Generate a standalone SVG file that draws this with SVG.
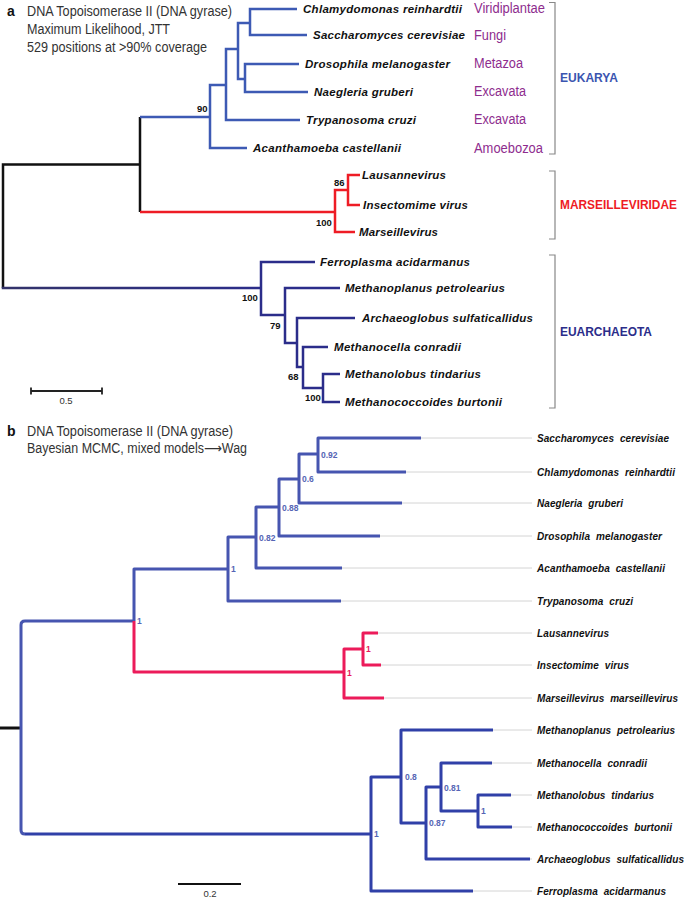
<svg xmlns="http://www.w3.org/2000/svg" width="685" height="898" viewBox="0 0 685 898">
<defs>
<style>
text{font-family:"Liberation Sans",Arial,"DejaVu Sans",sans-serif}
.ttl{font-size:14px;fill:#333}
.pl{font-size:14px;font-weight:bold;fill:#111}
.sp{font-size:11.5px;font-weight:bold;font-style:italic;fill:#111}
.spb{font-size:10px;font-weight:bold;font-style:italic;fill:#111;word-spacing:3px}
.grp{font-size:14px;fill:#8e2c8e}
.cl{font-size:12px;font-weight:bold}
.bs{font-size:9.5px;font-weight:bold;fill:#111}
.bb{font-size:8.5px;font-weight:bold;fill:#5565b5}
.br{font-size:8.5px;font-weight:bold;fill:#e8185a}
.ea{stroke:#3d5ab4;stroke-width:2.5;fill:none}
.ra{stroke:#ee1c25;stroke-width:2.5;fill:none}
.na{stroke:#2b2d8a;stroke-width:2.5;fill:none}
.ka{stroke:#111;stroke-width:2.5;fill:none}
.eb{stroke:#4655b0;stroke-width:3;fill:none;stroke-linejoin:round}
.rb{stroke:#ec1b5a;stroke-width:3;fill:none;stroke-linejoin:round}
.ab{stroke:#3040a8;stroke-width:3;fill:none;stroke-linejoin:round}
.ld{stroke:#d4d4d4;stroke-width:1;fill:none}
.bk{stroke:#888;stroke-width:1.2;fill:none}
</style>
<linearGradient id="gnav" gradientUnits="userSpaceOnUse" x1="3" y1="288" x2="261" y2="288">
<stop offset="0" stop-color="#33336a"/><stop offset="1" stop-color="#2b2d8a"/>
</linearGradient>
</defs>
<rect width="685" height="898" fill="#fff"/>

<!-- Panel a header -->
<g id="header-a">
<text class="pl" x="7" y="16">a</text>
<text class="ttl" x="27" y="16" textLength="205" lengthAdjust="spacingAndGlyphs">DNA Topoisomerase II (DNA gyrase)</text>
<text class="ttl" x="27" y="34" textLength="143" lengthAdjust="spacingAndGlyphs">Maximum Likelihood, JTT</text>
<text class="ttl" x="27" y="52" textLength="180" lengthAdjust="spacingAndGlyphs">529 positions at &gt;90% coverage</text>
</g>

<!-- Panel a connectors -->
<g id="connectors-a">
<path class="ka" d="M140,117 V212 M140,164.5 H3 V288"/>
<path d="M1.75,288 H261" stroke="url(#gnav)" stroke-width="2.5" fill="none"/>
<path class="ea" d="M140,117 H210"/>
<path class="ea" d="M226,85 H210 V148 H247"/>
<path class="ea" d="M238,49 H226 V120 H300"/>
<path class="ea" d="M250,23 H238 V79 H245"/>
<path class="ea" d="M297,9 H250 V35 H307"/>
<path class="ea" d="M299,64 H245 V92 H308"/>
<path class="ra" d="M140,212 H335"/>
<path class="ra" d="M348,190 H335 V232 H355"/>
<path class="ra" d="M360,175 H348 V205 H360"/>
<path class="na" d="M315,262 H261 V315 H285"/>
<path class="na" d="M340,288 H285 V343 H297"/>
<path class="na" d="M355,318 H297 V367 H303"/>
<path class="na" d="M328,347 H303 V388 H323"/>
<path class="na" d="M340,374 H323 V402 H340"/>
</g>

<!-- Panel a support values -->
<g id="support-a">
<text class="bs" x="197" y="112">90</text>
<text class="bs" x="334" y="186">86</text>
<text class="bs" x="316" y="226">100</text>
<text class="bs" x="242" y="301">100</text>
<text class="bs" x="270" y="329">79</text>
<text class="bs" x="288" y="380">68</text>
<text class="bs" x="305" y="401">100</text>
</g>

<!-- Panel a leaves -->
<g id="leaf-a-chlamydomonas"><text class="sp" x="303" y="13" textLength="159">Chlamydomonas reinhardtii</text></g>
<g id="leaf-a-saccharomyces"><text class="sp" x="313" y="39" textLength="152">Saccharomyces cerevisiae</text></g>
<g id="leaf-a-drosophila"><text class="sp" x="305" y="68" textLength="145">Drosophila melanogaster</text></g>
<g id="leaf-a-naegleria"><text class="sp" x="314" y="96" textLength="99">Naegleria gruberi</text></g>
<g id="leaf-a-trypanosoma"><text class="sp" x="306" y="124" textLength="110">Trypanosoma cruzi</text></g>
<g id="leaf-a-acanthamoeba"><text class="sp" x="253" y="152" textLength="148">Acanthamoeba castellanii</text></g>
<g id="leaf-a-lausannevirus"><text class="sp" x="362" y="179" textLength="84">Lausannevirus</text></g>
<g id="leaf-a-insectomime"><text class="sp" x="363" y="209" textLength="105">Insectomime virus</text></g>
<g id="leaf-a-marseillevirus"><text class="sp" x="359" y="236" textLength="79">Marseillevirus</text></g>
<g id="leaf-a-ferroplasma"><text class="sp" x="320" y="266" textLength="150">Ferroplasma acidarmanus</text></g>
<g id="leaf-a-methanoplanus"><text class="sp" x="345" y="292" textLength="160">Methanoplanus petrolearius</text></g>
<g id="leaf-a-archaeoglobus"><text class="sp" x="362" y="322" textLength="171">Archaeoglobus sulfaticallidus</text></g>
<g id="leaf-a-methanocella"><text class="sp" x="334" y="351" textLength="127">Methanocella conradii</text></g>
<g id="leaf-a-methanolobus"><text class="sp" x="345" y="378" textLength="136">Methanolobus tindarius</text></g>
<g id="leaf-a-methanococcoides"><text class="sp" x="345" y="406" textLength="157">Methanococcoides burtonii</text></g>

<!-- Group labels -->
<g id="groups-a">
<text class="grp" x="474" y="12.5" textLength="71" lengthAdjust="spacingAndGlyphs">Viridiplantae</text>
<text class="grp" x="474" y="40" textLength="32" lengthAdjust="spacingAndGlyphs">Fungi</text>
<text class="grp" x="474" y="68" textLength="49" lengthAdjust="spacingAndGlyphs">Metazoa</text>
<text class="grp" x="474" y="96" textLength="52" lengthAdjust="spacingAndGlyphs">Excavata</text>
<text class="grp" x="474" y="124" textLength="52" lengthAdjust="spacingAndGlyphs">Excavata</text>
<text class="grp" x="474" y="152.5" textLength="69" lengthAdjust="spacingAndGlyphs">Amoebozoa</text>
</g>
<g id="clade-eukarya">
<path class="bk" d="M549,2.5 H555 V154 H549"/>
<text class="cl" x="560" y="82" fill="#3b55b0" textLength="58" lengthAdjust="spacingAndGlyphs">EUKARYA</text>
</g>
<g id="clade-marseilleviridae">
<path class="bk" d="M549,171 H555 V239 H549"/>
<text class="cl" x="560" y="209" fill="#ee1c25" textLength="117" lengthAdjust="spacingAndGlyphs">MARSEILLEVIRIDAE</text>
</g>
<g id="clade-euarchaeota">
<path class="bk" d="M549,255 H555 V408 H549"/>
<text class="cl" x="560" y="336" fill="#2b2d8a" textLength="92" lengthAdjust="spacingAndGlyphs">EUARCHAEOTA</text>
</g>

<g id="scale-a">
<path d="M31,391 H102 M31,387.5 V394.5 M102,387.5 V394.5" stroke="#222" stroke-width="1.8" fill="none"/>
<text x="66" y="404" font-size="9.5" fill="#333" text-anchor="middle">0.5</text>
</g>

<!-- Panel b header -->
<g id="header-b">
<text class="pl" x="7" y="436">b</text>
<text class="ttl" x="27" y="436" textLength="206" lengthAdjust="spacingAndGlyphs">DNA Topoisomerase II (DNA gyrase)</text>
<text class="ttl" x="27" y="453" textLength="220" lengthAdjust="spacingAndGlyphs">Bayesian MCMC, mixed models⟶Wag</text>
</g>

<!-- Panel b connectors -->
<g id="connectors-b">
<path d="M0,728 H21" stroke="#111" stroke-width="3" fill="none"/>
<path class="eb" d="M134,621 H25 Q21,621 21,625 V830 Q21,834 25,834"/>
<path class="ab" d="M25,834 H371"/>
<path class="eb" d="M228,569 H134 V621"/>
<path class="rb" d="M134,621 V672 H344"/>
<path class="eb" d="M256,537 H228 V601 H341"/>
<path class="eb" d="M279,507 H256 V568 H342"/>
<path class="eb" d="M299,479 H279 V536 H380"/>
<path class="eb" d="M318,454 H299 V503 H402"/>
<path class="eb" d="M421,438 H318 V472 H406"/>
<path class="rb" d="M363,649 H344 V698 H384"/>
<path class="rb" d="M378,633 H363 V665 H381"/>
<path class="ab" d="M401,777 H371 V891 H473"/>
<path class="ab" d="M493,730 H401 V823 H426"/>
<path class="ab" d="M441,787 H426 V859 H530"/>
<path class="ab" d="M492,763 H441 V811 H478"/>
<path class="ab" d="M511,795 H478 V827 H512"/>
<path class="ld" d="M421,438 H532 M406,472 H532 M402,503 H532 M380,536 H532 M342,568 H532 M341,601 H532 M378,633 H532 M381,665 H532 M384,698 H532 M493,730 H532 M492,763 H532 M511,795 H532 M512,827 H532 M530,859 H532 M473,891 H532"/>
</g>

<!-- Panel b support values -->
<g id="support-b">
<text class="bb" x="321" y="458">0.92</text>
<text class="bb" x="302" y="482">0.6</text>
<text class="bb" x="282" y="511">0.88</text>
<text class="bb" x="259" y="541">0.82</text>
<text class="bb" x="231" y="572">1</text>
<text class="bb" x="137" y="624">1</text>
<text class="br" x="366" y="652">1</text>
<text class="br" x="347" y="676">1</text>
<text class="bb" x="374" y="837">1</text>
<text class="bb" x="405" y="780">0.8</text>
<text class="bb" x="429" y="826">0.87</text>
<text class="bb" x="444" y="791">0.81</text>
<text class="bb" x="481" y="814">1</text>
</g>

<!-- Panel b leaves -->
<g id="leaf-b-saccharomyces"><text class="spb" x="537" y="441.5" textLength="132">Saccharomyces cerevisiae</text></g>
<g id="leaf-b-chlamydomonas"><text class="spb" x="537" y="475.5" textLength="138">Chlamydomonas reinhardtii</text></g>
<g id="leaf-b-naegleria"><text class="spb" x="537" y="506.5" textLength="86">Naegleria gruberi</text></g>
<g id="leaf-b-drosophila"><text class="spb" x="537" y="539.5" textLength="125">Drosophila melanogaster</text></g>
<g id="leaf-b-acanthamoeba"><text class="spb" x="537" y="571.5" textLength="128">Acanthamoeba castellanii</text></g>
<g id="leaf-b-trypanosoma"><text class="spb" x="537" y="604.5" textLength="96">Trypanosoma cruzi</text></g>
<g id="leaf-b-lausannevirus"><text class="spb" x="537" y="636.5" textLength="72">Lausannevirus</text></g>
<g id="leaf-b-insectomime"><text class="spb" x="537" y="668.5" textLength="92">Insectomime virus</text></g>
<g id="leaf-b-marseillevirus"><text class="spb" x="537" y="701.5" textLength="141">Marseillevirus marseillevirus</text></g>
<g id="leaf-b-methanoplanus"><text class="spb" x="537" y="733.5" textLength="138">Methanoplanus petrolearius</text></g>
<g id="leaf-b-methanocella"><text class="spb" x="537" y="766.5" textLength="110">Methanocella conradii</text></g>
<g id="leaf-b-methanolobus"><text class="spb" x="537" y="798.5" textLength="117">Methanolobus tindarius</text></g>
<g id="leaf-b-methanococcoides"><text class="spb" x="537" y="830.5" textLength="135">Methanococcoides burtonii</text></g>
<g id="leaf-b-archaeoglobus"><text class="spb" x="537" y="862.5" textLength="147">Archaeoglobus sulfaticallidus</text></g>
<g id="leaf-b-ferroplasma"><text class="spb" x="537" y="894.5" textLength="129">Ferroplasma acidarmanus</text></g>

<g id="scale-b">
<path d="M178,884 H241" stroke="#111" stroke-width="2" fill="none"/>
<text x="210" y="897" font-size="9.5" fill="#333" text-anchor="middle">0.2</text>
</g>
</svg>
